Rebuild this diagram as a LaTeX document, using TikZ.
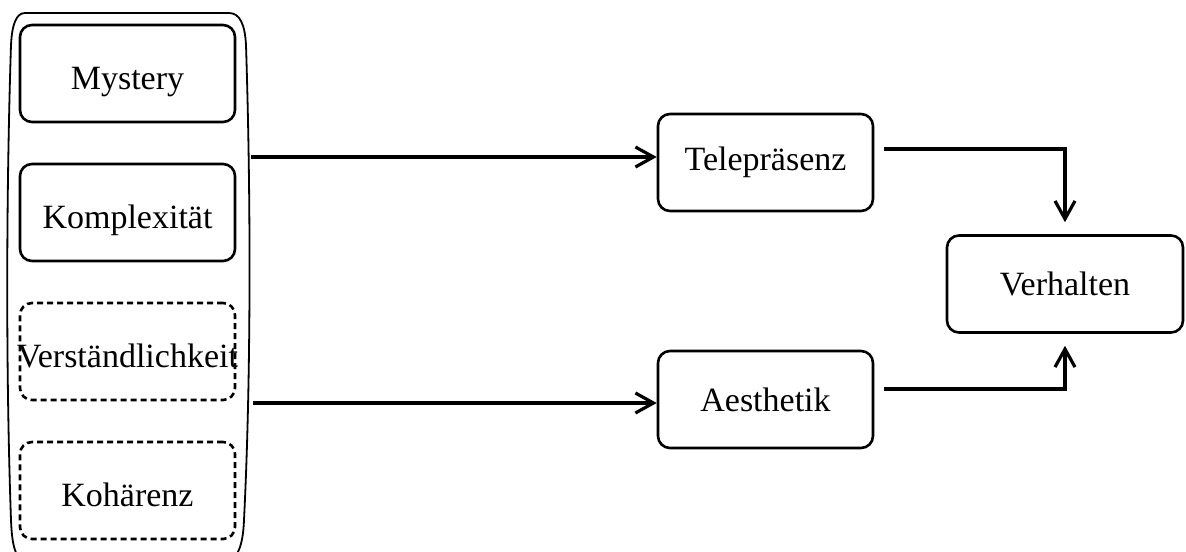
\documentclass[tikz,border=0pt]{standalone}
\usepackage{fontspec}
\setmainfont{Liberation Serif}
\usetikzlibrary{arrows.meta,positioning}

\begin{document}
\begin{tikzpicture}[x=0.5pt,y=-0.5pt,
    fbox/.style={draw,line width=1.3pt,rounded corners=6pt,inner sep=0pt,
      minimum width=107.5pt,minimum height=48.5pt,font=\fontsize{17}{20}\selectfont},
    dashbox/.style={dash pattern=on 3pt off 2pt},
    conn/.style={-{Straight Barb[length=9pt,width=10pt]},line width=1.6pt}]
\useasboundingbox (0,0) rectangle (1186,551);

% group frame, cut off at the bottom
\begin{scope}
\clip (0,0) rectangle (1186,551);
\draw[line width=0.9pt] (25,13) -- (229,13) .. controls (240,13) and (245,25) .. (246,45)
  .. controls (251,200) and (251,380) .. (244,520) .. controls (243,545) and (238,560) .. (225,562)
  -- (27,562) .. controls (15,560) and (12,545) .. (11,520)
  .. controls (6,380) and (6,200) .. (11,45) .. controls (12,25) and (16,13) .. (25,13) -- cycle;
\end{scope}

\foreach \lbl/\ln [count=\n] in {Mystery/solid,Komplexität/solid,Verständlichkeit/dashbox,Kohärenz/dashbox}
  \node[fbox,\ln,text height=16pt,text depth=0pt] (F\n) at (127.5,{73.5+139*(\n-1)}) {\makebox[0pt]{\lbl}};

\node[fbox] (tele) at (765.5,162.5) {Telepräsenz};
\node[fbox] (aest) at (765.5,399.5) {Aesthetik};
\node[fbox,minimum width=118pt] (verh) at (1065,284) {Verhalten};

\coordinate (grpT) at (251,157);
\coordinate (grpB) at (253,403);
\draw[conn] (grpT) -- (grpT -| tele.west);
\draw[conn] (grpB) -- (grpB -| aest.west);
\draw[conn] ([xshift=5pt,yshift=6.75pt]tele.east) -| ([yshift=6pt]verh.north);
\draw[conn] ([xshift=5pt,yshift=5.25pt]aest.east) -| ([yshift=-6pt]verh.south);
\end{tikzpicture}
\end{document}
